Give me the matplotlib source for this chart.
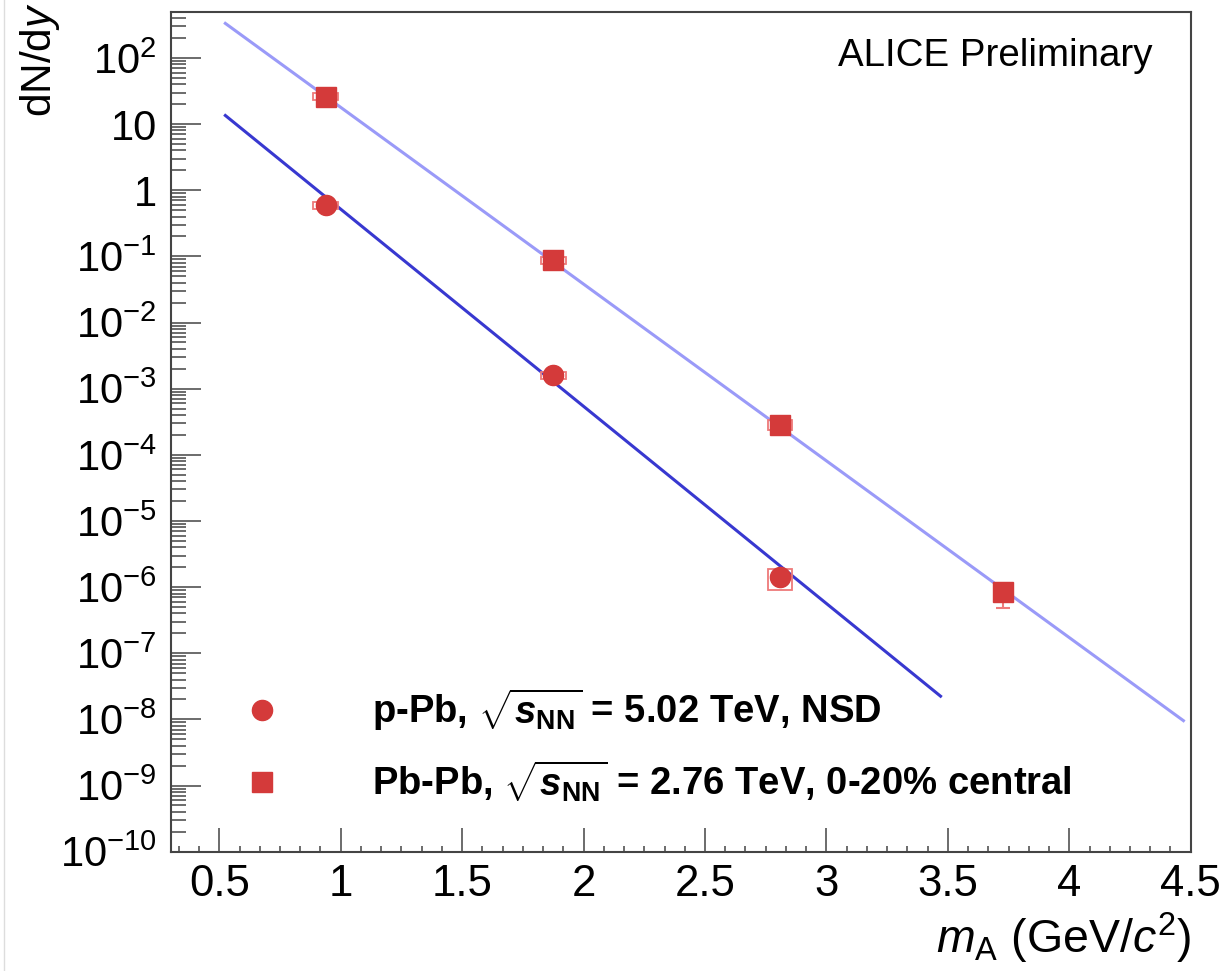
import numpy as np
import matplotlib
matplotlib.use("Agg")
import matplotlib.pyplot as plt
from matplotlib.ticker import FixedLocator, MultipleLocator, LogLocator, NullFormatter, FuncFormatter
from matplotlib.patches import Rectangle
from matplotlib.lines import Line2D

plt.rcParams['font.family'] = ['Liberation Sans', 'DejaVu Sans']
plt.rcParams['mathtext.fontset'] = 'custom'
plt.rcParams['mathtext.rm'] = 'Liberation Sans'
plt.rcParams['mathtext.it'] = 'Liberation Sans:italic'
plt.rcParams['mathtext.bf'] = 'Liberation Sans:bold'
plt.rcParams['mathtext.bfit'] = 'Liberation Sans:bold:italic'

# ---------------- data ----------------
pPb_mass = [0.938, 1.876, 2.809]
pPb_yield = [0.59, 1.6e-3, 1.4e-6]
pPb_syst = [0.07, 1.8e-4, 0.5e-6]

PbPb_mass = [0.938, 1.876, 2.809, 3.727]
PbPb_yield = [26.0, 0.088, 2.85e-4, 8.3e-7]
PbPb_stat = [0.5, 0.002, 0.1e-4, 3.4e-7]
PbPb_syst = [3.0, 0.01, 0.5e-4, None]

# exponential fits: log10(dN/dy) = a + b * m
pPb_fit = dict(a=2.695, b=-2.981, xmin=0.525, xmax=3.47)
PbPb_fit = dict(a=3.925, b=-2.672, xmin=0.525, xmax=4.47)

labels = [r"p-Pb, $\sqrt{\mathbfit{s}_{\mathbf{NN}}}$ = 5.02 TeV, NSD",
          r"Pb-Pb, $\sqrt{\mathbfit{s}_{\mathbf{NN}}}$ = 2.76 TeV, 0-20% central"]

red = '#d43a3a'
box_red = '#ee7a7a'
c_pPb_line = '#3838d0'
c_PbPb_line = '#9a9af8'

# ---------------- figure ----------------
fig = plt.figure(figsize=(12.25, 9.71), dpi=100)
ax = fig.add_axes([170.7/1225, 1-851.7/971, (1190.7-170.7)/1225, (851.7-11.7)/971])
ax.set_yscale('log')
ax.set_xlim(0.3, 4.5)
ax.set_ylim(1e-10, 500)

# fit lines
for fit, col in [(PbPb_fit, c_PbPb_line), (pPb_fit, c_pPb_line)]:
    xx = np.linspace(fit['xmin'], fit['xmax'], 200)
    ax.plot(xx, 10**(fit['a'] + fit['b']*xx), color=col, lw=2.2, zorder=2)

# systematic boxes
bw = 0.05
for xs, ys, ss in [(pPb_mass, pPb_yield, pPb_syst), (PbPb_mass, PbPb_yield, PbPb_syst)]:
    for x, y, s in zip(xs, ys, ss):
        if s is None:
            continue
        ax.add_patch(Rectangle((x-bw, y-s), 2*bw, 2*s, fill=False,
                               edgecolor=box_red, lw=1.3, zorder=3))

# stat errors + markers
ax.errorbar(PbPb_mass, PbPb_yield, yerr=PbPb_stat, fmt='s', color=red, ms=14,
            mec=red, ecolor=box_red, elinewidth=1.5, capsize=5, capthick=1.5, zorder=4)
ax.plot(pPb_mass, pPb_yield, 'o', color=red, ms=14.5, mec=red, zorder=4)

# ticks
ax.xaxis.set_major_locator(MultipleLocator(0.5))
ax.xaxis.set_minor_locator(MultipleLocator(0.5/6))
ax.xaxis.set_major_formatter(FuncFormatter(lambda v, p: ('%g' % v)))
ax.yaxis.set_major_locator(FixedLocator([10.0**k for k in range(-10, 3)]))
ax.yaxis.set_minor_locator(LogLocator(base=10, subs=np.arange(2, 10), numticks=50))
ax.yaxis.set_minor_formatter(NullFormatter())

def yfmt(v, p):
    k = int(round(np.log10(v)))
    if k == 0:
        return '1'
    if k == 1:
        return '10'
    return r'$\mathregular{10^{%d}}$' % k
ax.yaxis.set_major_formatter(FuncFormatter(yfmt))

ax.tick_params(axis='x', which='major', direction='in', length=17, width=1.1,
               labelsize=31.5, pad=9, color='#444444', top=False)
ax.tick_params(axis='x', which='minor', direction='in', length=4.5, width=1.1,
               color='#444444', top=False)
ax.tick_params(axis='y', which='major', direction='in', length=21.5, width=1.1,
               labelsize=30, pad=10, color='#444444', right=False)
ax.tick_params(axis='y', which='minor', direction='in', length=11, width=1.1,
               color='#444444', right=False)
for sp in ax.spines.values():
    sp.set_color('#444444')
    sp.set_linewidth(1.5)

# axis titles
fig.text(40/1225, 1-2/971, r'dN/d$\it{y}$', rotation=90, ha='center', va='top', fontsize=30.5)
fig.text(1191/1225, 1-938/971, r'$\it{m}_{\mathregular{A}}$ (GeV/$\it{c}^{\mathregular{2}}$)',
         ha='right', va='center', fontsize=33.5)

# ALICE label
ax.text((1153-170.7)/1020, 1-(56-11.7)/840, 'ALICE Preliminary', transform=ax.transAxes,
        ha='right', va='center', fontsize=27.7)

# legend (manual, ROOT-like)
for i, (mk, lab) in enumerate([('o', labels[0]), ('s', labels[1])]):
    ypix = [710, 782][i]
    yf = 1 - ypix/971
    fig.add_artist(Line2D([262/1225], [yf], marker=mk, color=red, ms=14.5 if mk == 'o' else 14,
                          mec=red, linestyle='none'))
    fig.text(372/1225, yf, lab, ha='left', va='center', fontsize=27.5, fontweight='bold')

# faint left-edge line from screenshot
fig.add_artist(Line2D([4/1225, 4/1225], [0, 1], color='#dddddd', lw=1))

fig.savefig('out.png', dpi=100)
